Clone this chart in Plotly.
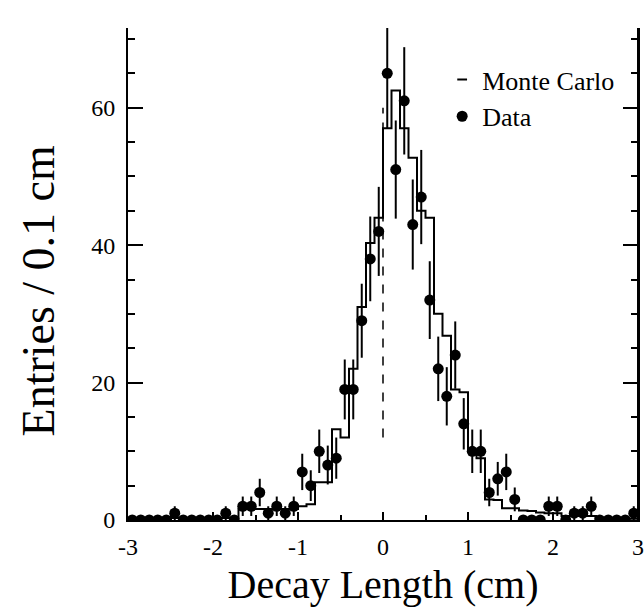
import numpy as np
import plotly.graph_objects as go

# ---- data ----
bin_edges = [round(-3.0 + 0.1 * i, 2) for i in range(61)]
bin_centers = [round(-2.95 + 0.1 * i, 2) for i in range(60)]

data_counts = [0, 0, 0, 0, 0, 1, 0, 0, 0, 0,
               0, 1, 0, 2, 2, 4, 1, 2, 1, 2,
               7, 5, 10, 8, 9, 19, 19, 29, 38, 42,
               65, 51, 61, 43, 47, 32, 22, 18, 24, 14,
               10, 10, 4, 6, 7, 3, 0, 0, 0, 2,
               2, 0, 1, 1, 2, 0, 0, 0, 0, 1]

mc_counts = [0.3, 0.3, 0.3, 0.3, 0.3, 0.3, 0.3, 0.3, 0.3, 0.3,
             0.3, 0.3, 0.3, 1.6, 1.6, 1.6, 1.6, 1.6, 1.6, 1.6,
             2.0, 2.3, 5.5, 5.5, 13.2, 12.0, 22.0, 31.0, 40.3, 44.0,
             57.0, 62.5, 57.0, 52.7, 45.0, 44.0, 30.0, 26.8, 19.0, 18.6,
             10.0, 9.0, 3.0, 2.9, 1.7, 1.7, 1.4, 1.3, 1.1, 1.0,
             1.0, 0.6, 0.6, 0.6, 0.6, 0.3, 0.2, 0.2, 0.2, 0.2]

ref_line_x = [0.0, 0.0]
ref_line_y = [12.0, 60.0]

x_tick_vals = [-3, -2, -1, 0, 1, 2, 3]
x_tick_labels = ["-3", "-2", "-1", "0", "1", "2", "3"]
y_tick_vals = [0, 20, 40, 60]
y_tick_labels = ["0", "20", "40", "60"]

x_title = "Decay Length (cm)"
y_title = "Entries / 0.1 cm"

data_err = [float(np.sqrt(v)) for v in data_counts]
mc_step_y = mc_counts + [mc_counts[-1]]

FONT = "Liberation Serif, Times New Roman, serif"

fig = go.Figure()

fig.add_trace(go.Scatter(
    x=bin_edges, y=mc_step_y, mode="lines", line_shape="hv",
    line=dict(color="black", width=2), showlegend=False, hoverinfo="skip"))

fig.add_trace(go.Scatter(
    x=ref_line_x, y=ref_line_y, mode="lines",
    line=dict(color="black", width=1.5, dash="dash"), showlegend=False))

# legend entry for Monte Carlo (short dash)
fig.add_trace(go.Scatter(
    x=[None], y=[None], mode="markers", name="Monte Carlo",
    marker=dict(symbol="line-ew", size=7, line=dict(color="black", width=2))))

fig.add_trace(go.Scatter(
    x=bin_centers, y=data_counts, mode="markers", name="Data",
    marker=dict(color="black", size=11),
    error_y=dict(type="data", array=data_err, visible=True,
                 thickness=2, width=0, color="black")))

fig.update_layout(
    width=644, height=610,
    margin=dict(l=128, r=6, t=28, b=90),
    paper_bgcolor="white", plot_bgcolor="white",
    font=dict(family=FONT, color="black"),
    legend=dict(x=0.616, y=0.943, xanchor="left", yanchor="top",
                font=dict(size=26, family=FONT), bgcolor="rgba(0,0,0,0)",
                tracegroupgap=0),
    annotations=[dict(text=y_title, textangle=-90, showarrow=False,
                      xref="paper", yref="paper", x=-0.176, y=0.465,
                      xanchor="center", yanchor="middle",
                      font=dict(size=46, family=FONT, color="black"))],
)

fig.update_xaxes(
    range=[-3, 3], tickvals=x_tick_vals, ticktext=x_tick_labels,
    ticks="inside", ticklen=8, tickwidth=2, tickcolor="black",
    minor=dict(dtick=0.5, ticks="inside", ticklen=5, tickwidth=1.5, tickcolor="black"),
    showline=True, linewidth=2, linecolor="black", mirror=False,
    showgrid=False, zeroline=False, automargin=False,
    ticklabelstandoff=4,
    tickfont=dict(size=24, family=FONT),
    title=dict(text=x_title, font=dict(size=40, family=FONT), standoff=11))

fig.update_yaxes(
    range=[0, 71.6], tickvals=y_tick_vals, ticktext=y_tick_labels,
    ticks="inside", ticklen=15, tickwidth=2, tickcolor="black",
    minor=dict(dtick=5, ticks="inside", ticklen=7, tickwidth=1.5, tickcolor="black"),
    showline=True, linewidth=2, linecolor="black", mirror="all",
    showgrid=False, zeroline=False, automargin=False,
    ticklabelstandoff=6,
    tickfont=dict(size=24, family=FONT))

# right-hand frame edge
fig.add_shape(type="line", xref="paper", yref="paper", x0=1, x1=1, y0=0, y1=1,
              line=dict(color="black", width=2))

fig.write_html("out.html",
               config={"displayModeBar": False},
               post_script="document.body.style.margin='0';document.body.style.overflow='hidden';")
